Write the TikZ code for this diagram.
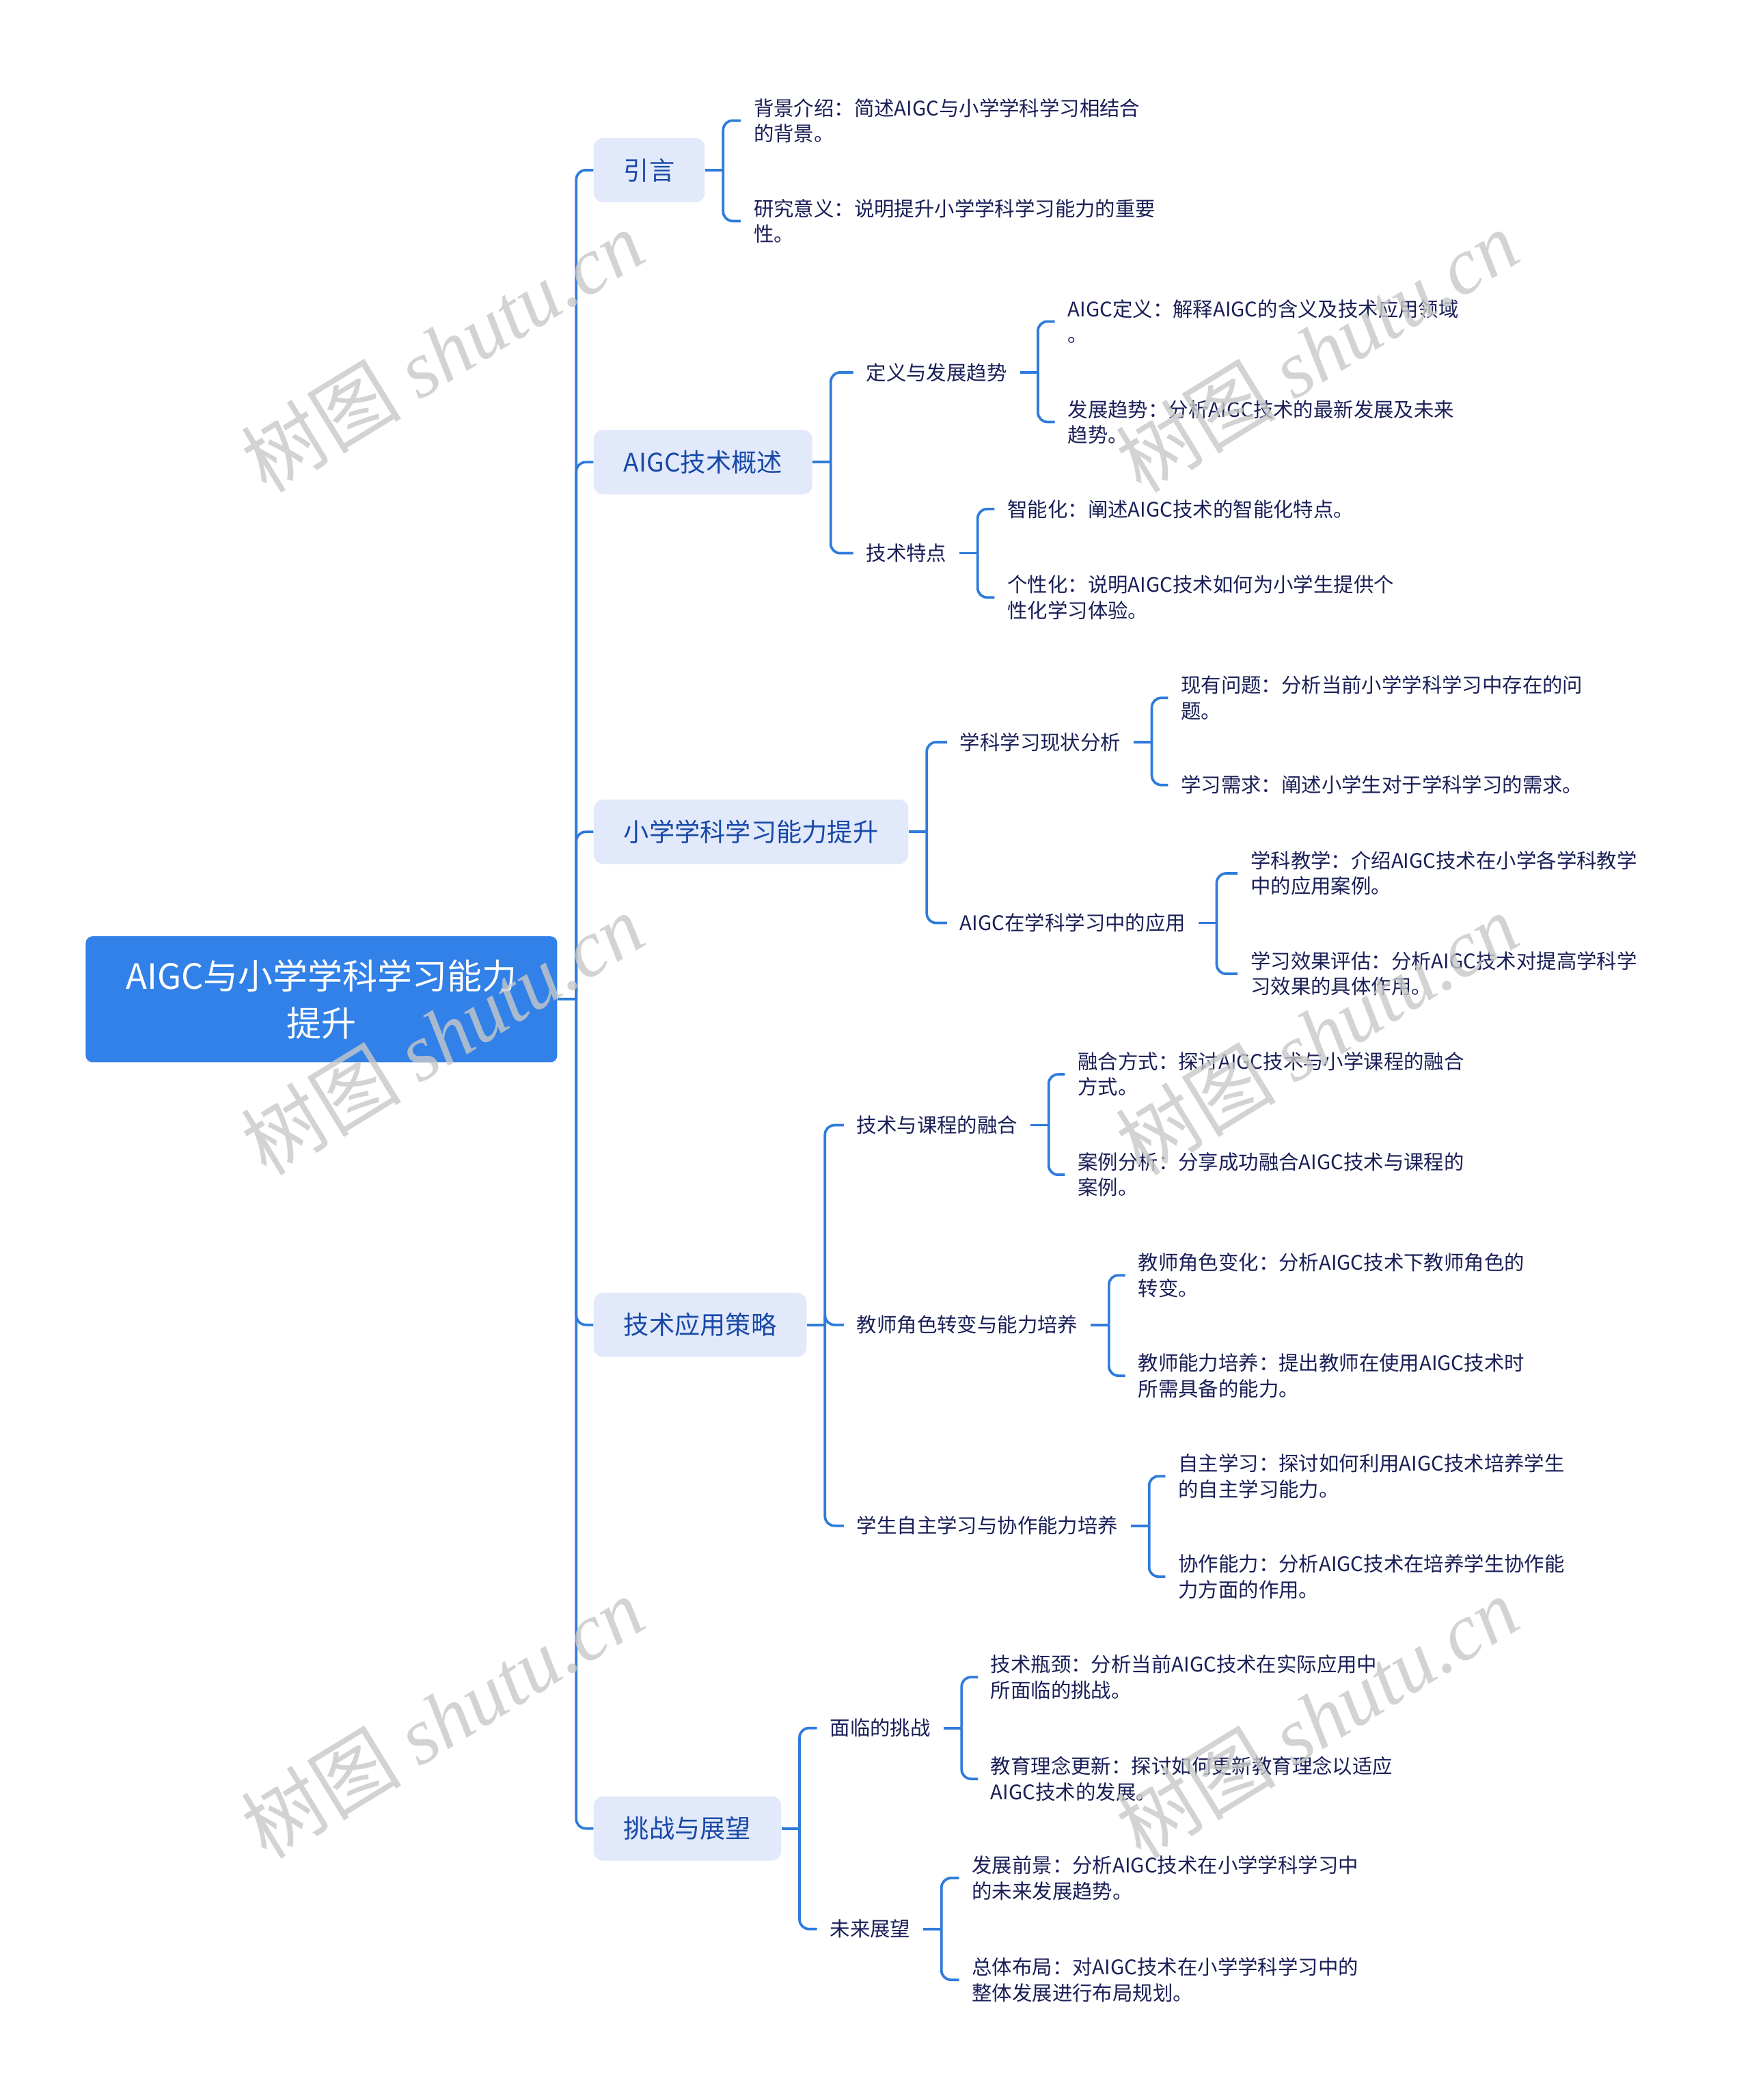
\documentclass[tikz,border=0pt]{standalone}
\usepackage{fontspec}
\setmainfont{Noto Sans CJK SC}
\newfontfamily\wmserif{Liberation Serif}
\usetikzlibrary{calc}
\definecolor{linec}{HTML}{2F7BDB}
\definecolor{rootc}{HTML}{3181E8}
\definecolor{lonefill}{HTML}{E1E9FA}
\definecolor{lonetext}{HTML}{1849A8}
\definecolor{leaftext}{HTML}{1A1F57}
\definecolor{wmc}{HTML}{C8C8C8}
\begin{document}
\begin{tikzpicture}[x=1pt,y=-1pt,
 conn/.style={draw=linec, line width=1.9pt, rounded corners=7pt},
 rootbox/.style={fill=rootc, rounded corners=5pt, text=white, font=\fontsize{26}{35}\selectfont, align=center, minimum width=352pt, minimum height=94pt, inner sep=0pt},
 lonebox/.style={fill=lonefill, rounded corners=7pt, text=lonetext, font=\fontsize{19}{24}\selectfont, minimum height=48pt, inner xsep=22.5pt, inner ysep=0pt, anchor=west},
 ltwo/.style={text=leaftext, font=\fontsize{15}{19}\selectfont, inner xsep=9.5pt, inner ysep=2pt, anchor=west, align=left},
 leaf/.style={ltwo},
 wmark/.style={text=wmc, opacity=0.8, rotate=31.5, font=\fontsize{60}{60}\selectfont, inner sep=0pt}]
\useasboundingbox (0,0) rectangle (1306,1567.7);
\fill[white] (0,0) rectangle (1306,1567.7);

% root
\node[rootbox] (root) at (240,746) {AIGC与小学学科学习能力\\提升};
\coordinate (t) at ($(root.east)+(14,0)$);
\draw[conn] (root.east) -- (t);

% level 1
\node[lonebox] (n1) at (443,127) {引言};
\node[lonebox] (n2) at (443,345) {AIGC技术概述};
\node[lonebox] (n3) at (443,621) {小学学科学习能力提升};
\node[lonebox] (n4) at (443,989) {技术应用策略};
\node[lonebox] (n5) at (443,1365) {挑战与展望};
\foreach \n in {n1,n2,n3,n4,n5} \draw[conn] (t) |- (\n.west);

% n1
\coordinate (j1) at ($(n1.east)+(13.5,0)$);
\draw[conn] (n1.east) -- (j1);
\node[leaf] (a1) at (553,90) {背景介绍：简述AIGC与小学学科学习相结合\\的背景。};
\node[leaf] (a2) at (553,165) {研究意义：说明提升小学学科学习能力的重要\\性。};
\foreach \c in {a1,a2} \draw[conn] (j1) |- (\c.west);

% n2
\coordinate (j2) at ($(n2.east)+(13.5,0)$);
\draw[conn] (n2.east) -- (j2);
\node[ltwo] (b1) at (637,278) {定义与发展趋势};
\node[ltwo] (b2) at (637,413) {技术特点};
\foreach \c in {b1,b2} \draw[conn] (j2) |- (\c.west);
\coordinate (jb1) at ($(b1.east)+(13.5,0)$);
\draw[conn] (b1.east) -- (jb1);
\node[leaf] (b11) at (787.5,240) {AIGC定义：解释AIGC的含义及技术应用领域\\。};
\node[leaf] (b12) at (787.5,315) {发展趋势：分析AIGC技术的最新发展及未来\\趋势。};
\foreach \c in {b11,b12} \draw[conn] (jb1) |- (\c.west);
\coordinate (jb2) at ($(b2.east)+(13.5,0)$);
\draw[conn] (b2.east) -- (jb2);
\node[leaf] (b21) at (742.5,380) {智能化：阐述AIGC技术的智能化特点。};
\node[leaf] (b22) at (742.5,446) {个性化：说明AIGC技术如何为小学生提供个\\性化学习体验。};
\foreach \c in {b21,b22} \draw[conn] (jb2) |- (\c.west);

% n3
\coordinate (j3) at ($(n3.east)+(13.5,0)$);
\draw[conn] (n3.east) -- (j3);
\node[ltwo] (c1) at (707,554) {学科学习现状分析};
\node[ltwo] (c2) at (707,689) {AIGC在学科学习中的应用};
\foreach \c in {c1,c2} \draw[conn] (j3) |- (\c.west);
\coordinate (jc1) at ($(c1.east)+(13.5,0)$);
\draw[conn] (c1.east) -- (jc1);
\node[leaf] (c11) at (872,521) {现有问题：分析当前小学学科学习中存在的问\\题。};
\node[leaf] (c12) at (872,586) {学习需求：阐述小学生对于学科学习的需求。};
\foreach \c in {c11,c12} \draw[conn] (jc1) |- (\c.west);
\coordinate (jc2) at ($(c2.east)+(13.5,0)$);
\draw[conn] (c2.east) -- (jc2);
\node[leaf] (c21) at (924,652) {学科教学：介绍AIGC技术在小学各学科教学\\中的应用案例。};
\node[leaf] (c22) at (924,727) {学习效果评估：分析AIGC技术对提高学科学\\习效果的具体作用。};
\foreach \c in {c21,c22} \draw[conn] (jc2) |- (\c.west);

% n4
\coordinate (j4) at ($(n4.east)+(13.5,0)$);
\draw[conn] (n4.east) -- (j4);
\node[ltwo] (d1) at (630,840) {技术与课程的融合};
\node[ltwo] (d2) at (630,989) {教师角色转变与能力培养};
\node[ltwo] (d3) at (630,1139) {学生自主学习与协作能力培养};
\foreach \c in {d1,d2,d3} \draw[conn] (j4) |- (\c.west);
\coordinate (jd1) at ($(d1.east)+(13.5,0)$);
\draw[conn] (d1.east) -- (jd1);
\node[leaf] (d11) at (795,802) {融合方式：探讨AIGC技术与小学课程的融合\\方式。};
\node[leaf] (d12) at (795,877) {案例分析：分享成功融合AIGC技术与课程的\\案例。};
\foreach \c in {d11,d12} \draw[conn] (jd1) |- (\c.west);
\coordinate (jd2) at ($(d2.east)+(13.5,0)$);
\draw[conn] (d2.east) -- (jd2);
\node[leaf] (d21) at (840,952) {教师角色变化：分析AIGC技术下教师角色的\\转变。};
\node[leaf] (d22) at (840,1027) {教师能力培养：提出教师在使用AIGC技术时\\所需具备的能力。};
\foreach \c in {d21,d22} \draw[conn] (jd2) |- (\c.west);
\coordinate (jd3) at ($(d3.east)+(13.5,0)$);
\draw[conn] (d3.east) -- (jd3);
\node[leaf] (d31) at (870,1102) {自主学习：探讨如何利用AIGC技术培养学生\\的自主学习能力。};
\node[leaf] (d32) at (870,1177) {协作能力：分析AIGC技术在培养学生协作能\\力方面的作用。};
\foreach \c in {d31,d32} \draw[conn] (jd3) |- (\c.west);

% n5
\coordinate (j5) at ($(n5.east)+(13.5,0)$);
\draw[conn] (n5.east) -- (j5);
\node[ltwo] (e1) at (610,1290) {面临的挑战};
\node[ltwo] (e2) at (610,1440) {未来展望};
\foreach \c in {e1,e2} \draw[conn] (j5) |- (\c.west);
\coordinate (je1) at ($(e1.east)+(13.5,0)$);
\draw[conn] (e1.east) -- (je1);
\node[leaf] (e11) at (730,1252) {技术瓶颈：分析当前AIGC技术在实际应用中\\所面临的挑战。};
\node[leaf] (e12) at (730,1328) {教育理念更新：探讨如何更新教育理念以适应\\AIGC技术的发展。};
\foreach \c in {e11,e12} \draw[conn] (je1) |- (\c.west);
\coordinate (je2) at ($(e2.east)+(13.5,0)$);
\draw[conn] (e2.east) -- (je2);
\node[leaf] (e21) at (716,1402) {发展前景：分析AIGC技术在小学学科学习中\\的未来发展趋势。};
\node[leaf] (e22) at (716,1478) {总体布局：对AIGC技术在小学学科学习中的\\整体发展进行布局规划。};
\foreach \c in {e21,e22} \draw[conn] (je2) |- (\c.west);

% watermarks
\foreach \wx/\wy [count=\k] in {330/262, 983/262, 330/772, 983/772, 330/1282, 983/1282}
  \node[wmark] (wm\k) at (\wx,\wy) {树图 {\wmserif\itshape shutu.cn}};
\end{tikzpicture}
\end{document}
